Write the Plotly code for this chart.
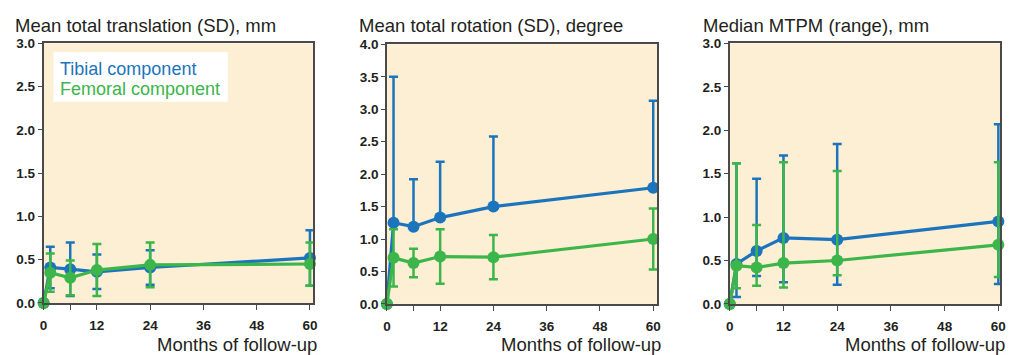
import plotly.graph_objects as go

# ---------------- data ----------------
months = [0, 1.5, 6, 12, 24, 60]
x_tickvals = [0, 6, 12, 24, 36, 48, 60]
x_ticktext = ["0", "", "12", "24", "36", "48", "60"]

# Panel 1: mean total translation (SD), mm
trans_tib_mean = [0, 0.41, 0.39, 0.36, 0.41, 0.52]
trans_tib_sd = [0, 0.24, 0.31, 0.20, 0.20, 0.32]
trans_fem_mean = [0, 0.35, 0.29, 0.38, 0.44, 0.45]
trans_fem_sd = [0, 0.22, 0.20, 0.30, 0.26, 0.25]

# Panel 2: mean total rotation (SD), degree
rot_tib_mean = [0, 1.25, 1.19, 1.33, 1.50, 1.79]
rot_tib_sd = [0, 2.25, 0.73, 0.86, 1.08, 1.34]
rot_fem_mean = [0, 0.71, 0.63, 0.73, 0.72, 1.00]
rot_fem_sd = [0, 0.44, 0.22, 0.42, 0.34, 0.47]

# Panel 3: median MTPM (range), mm
mtpm_tib_med = [0, 0.46, 0.61, 0.76, 0.74, 0.95]
mtpm_tib_min = [0, 0.08, 0.32, 0.25, 0.22, 0.23]
mtpm_tib_max = [0, 1.62, 1.44, 1.71, 1.84, 2.07]
mtpm_fem_med = [0, 0.44, 0.42, 0.47, 0.50, 0.68]
mtpm_fem_min = [0, 0.18, 0.21, 0.19, 0.33, 0.31]
mtpm_fem_max = [0, 1.62, 0.91, 1.63, 1.53, 1.63]

titles = ["Mean total translation (SD), mm",
          "Mean total rotation (SD), degree",
          "Median MTPM (range), mm"]
xlabel = "Months of follow-up"
legend_names = ["Tibial component", "Femoral component"]

# ---------------- style ----------------
BLUE = "#1c74bc"
GREEN = "#3cb54a"
BG = "#fdefd4"
AX = "#4a4a4a"
TXT = "#231f20"
FONT = "Liberation Sans, Arial, sans-serif"
W, H = 1012, 355

def px_x(p):
    return p / W

def px_y(p):
    return 1 - p / H

fig = go.Figure()

def add_series(ax, y, plus, minus, color, name):
    sfx = "" if ax == 1 else str(ax)
    fig.add_trace(go.Scatter(
        x=months, y=y, mode="lines+markers", name=name,
        xaxis="x" + sfx, yaxis="y" + sfx,
        line=dict(color=color, width=3.2),
        marker=dict(color=color, size=12),
        error_y=dict(type="data", symmetric=False, array=plus, arrayminus=minus,
                     color=color, thickness=2.5, width=4.5),
        cliponaxis=False, showlegend=False,
    ))

# panel 1
add_series(1, trans_tib_mean, trans_tib_sd, trans_tib_sd, BLUE, legend_names[0])
add_series(1, trans_fem_mean, trans_fem_sd, trans_fem_sd, GREEN, legend_names[1])
# panel 2 (tibial bars only upward)
add_series(2, rot_tib_mean, rot_tib_sd, [0] * len(months), BLUE, legend_names[0])
add_series(2, rot_fem_mean, rot_fem_sd, rot_fem_sd, GREEN, legend_names[1])
# panel 3 (ranges)
add_series(3, mtpm_tib_med,
           [a - m for a, m in zip(mtpm_tib_max, mtpm_tib_med)],
           [m - a for a, m in zip(mtpm_tib_min, mtpm_tib_med)], BLUE, legend_names[0])
add_series(3, mtpm_fem_med,
           [a - m for a, m in zip(mtpm_fem_max, mtpm_fem_med)],
           [m - a for a, m in zip(mtpm_fem_min, mtpm_fem_med)], GREEN, legend_names[1])

panels = [
    dict(x0=40, x1=312, y0=38, y1=309, xmax=60.67, ymax=3.0, title_x=9, label_r=318),
    dict(x0=386.7, x1=660, y0=39, y1=310, xmax=60.96, ymax=4.0, title_x=357, label_r=666),
    dict(x0=733, x1=1006, y0=38, y1=310, xmax=60.38, ymax=3.0, title_x=704, label_r=1013),
]

layout = dict(
    width=W, height=H, margin=dict(l=0, r=0, t=0, b=0),
    paper_bgcolor="white", plot_bgcolor=BG,
    font=dict(family=FONT, color=TXT),
    annotations=[], shapes=[],
)

TICKFONT = dict(size=13.5, color=TXT, family=FONT, weight="bold")

for i, p in enumerate(panels):
    sfx = "" if i == 0 else str(i + 1)
    layout["xaxis" + sfx] = dict(
        domain=[px_x(p["x0"]), px_x(p["x1"])], anchor="y" + sfx,
        range=[0, p["xmax"]], tickvals=x_tickvals, ticktext=x_ticktext,
        ticks="outside", ticklen=5, tickcolor=AX, tickwidth=1.3,
        ticklabelstandoff=4,
        showline=True, linecolor=AX, linewidth=1.5, mirror=True,
        showgrid=False, zeroline=False,
        tickfont=TICKFONT,
    )
    layout["yaxis" + sfx] = dict(
        domain=[px_y(p["y1"]), px_y(p["y0"])], anchor="x" + sfx,
        range=[0, p["ymax"]], dtick=0.5, tickformat=".1f",
        ticks="outside", ticklen=4, tickcolor=AX, tickwidth=1.3,
        showline=True, linecolor=AX, linewidth=1.5, mirror=True,
        showgrid=False, zeroline=False,
        tickfont=TICKFONT,
    )
    layout["annotations"].append(dict(
        text=titles[i], xref="paper", yref="paper",
        x=px_x(p["title_x"]), y=px_y(19), xanchor="left", yanchor="middle",
        showarrow=False, font=dict(size=18.5, color=TXT, family=FONT),
    ))
    layout["annotations"].append(dict(
        text=xlabel, xref="paper", yref="paper",
        x=px_x(p["label_r"]), y=px_y(352), xanchor="right", yanchor="middle",
        showarrow=False, font=dict(size=18.5, color=TXT, family=FONT),
    ))

# legend box in panel 1
layout["shapes"].append(dict(
    type="rect", xref="paper", yref="paper",
    x0=px_x(50), x1=px_x(226), y0=px_y(99), y1=px_y(47),
    fillcolor="white", line=dict(width=0), layer="above",
))
layout["annotations"].append(dict(
    text=legend_names[0], xref="paper", yref="paper",
    x=px_x(55), y=px_y(65), xanchor="left", yanchor="middle",
    showarrow=False, font=dict(size=18, color=BLUE, family=FONT),
))
layout["annotations"].append(dict(
    text=legend_names[1], xref="paper", yref="paper",
    x=px_x(55), y=px_y(86), xanchor="left", yanchor="middle",
    showarrow=False, font=dict(size=18, color=GREEN, family=FONT),
))

fig.update_layout(**layout)
fig.write_html("out.html")
